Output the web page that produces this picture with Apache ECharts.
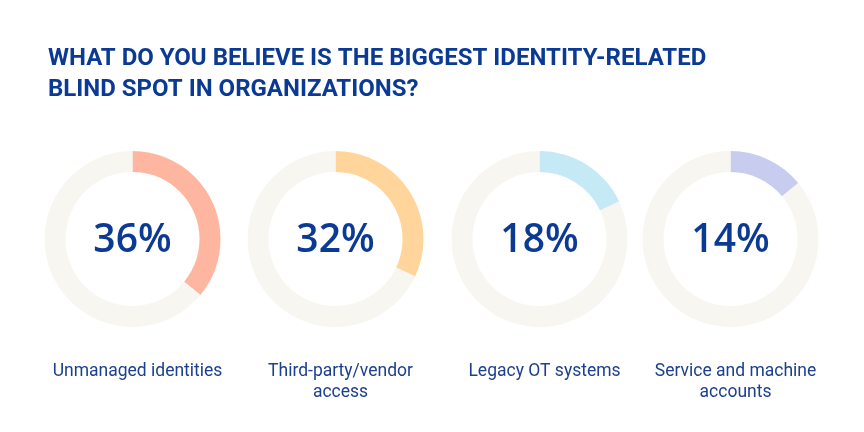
<!DOCTYPE html>
<html>
<head>
<meta charset="utf-8">
<script src="https://cdn.jsdelivr.net/npm/echarts@6/dist/echarts.min.js"></script>
<style>html,body{margin:0;padding:0;background:#fff}#c{width:864px;height:432px}</style>
</head>
<body>
<div id="c"></div>
<script>
const titleLines = ["WHAT DO YOU BELIEVE IS THE BIGGEST IDENTITY-RELATED", "BLIND SPOT IN ORGANIZATIONS?"];
const categories = ["Unmanaged identities", "Third-party/vendor\naccess", "Legacy OT systems", "Service and machine\naccounts"];
const values = [36, 32, 18, 14];
const colors = ["#FFB6A1", "#FFD59C", "#C5E9F5", "#C8CDEF"];
const centersX = [132.5, 335.5, 539.5, 730.5];

const navy = "#0B3A94";
const track = "#F8F6F0";
const chart = echarts.init(document.getElementById('c'));
const series = values.map((v, i) => ({
  type: 'pie',
  center: [centersX[i], 239],
  radius: [67, 88],
  startAngle: 90,
  clockwise: true,
  silent: true,
  animation: false,
  avoidLabelOverlap: false,
  labelLine: {show: false},
  data: [
    {value: v, itemStyle: {color: colors[i]},
     label: {show: true, position: 'center', formatter: v + '%', color: navy,
             fontSize: 39, fontWeight: 600, fontFamily: 'Open Sans', offset: [0, 2]}},
    {value: 100 - v, itemStyle: {color: track}, label: {show: false}}
  ]
}));
const titles = [{
  text: titleLines.join('\n'), left: 43, top: 38,
  textStyle: {color: navy, fontSize: 24, fontWeight: 'bold', fontFamily: 'Roboto', lineHeight: 31}
}].concat(categories.map((c, i) => ({
  text: c, left: centersX[i], top: 356, textAlign: 'center',
  textStyle: {color: "#1C3F8E", fontSize: 17.5, fontWeight: 'normal', fontFamily: 'Roboto', lineHeight: 21}
})));
chart.setOption({title: titles, series: series, animation: false});
</script>
</body>
</html>
